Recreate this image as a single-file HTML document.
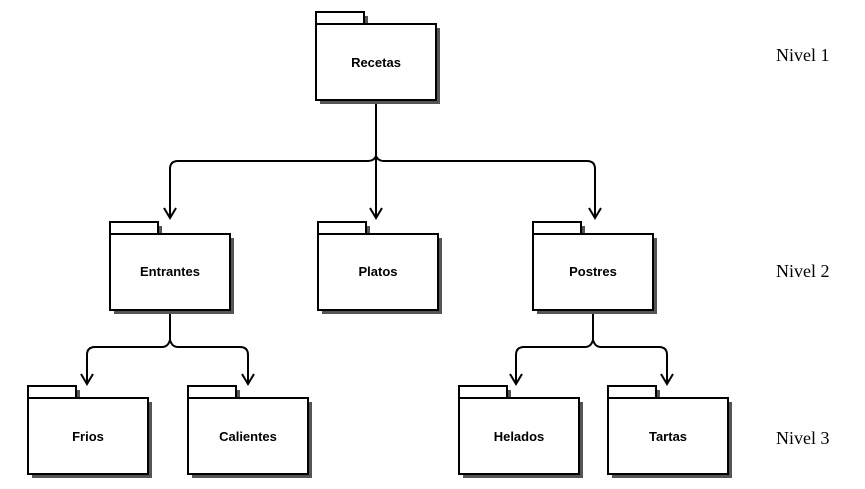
<!DOCTYPE html>
<html><head><meta charset="utf-8"><style>
html,body{margin:0;padding:0;background:#fff;width:865px;height:489px;overflow:hidden}
</style></head><body>
<svg width="865" height="489" xmlns="http://www.w3.org/2000/svg">
<defs>
<g id="pkg">
<rect x="4" y="4" width="48" height="12" fill="#555"/>
<rect x="4" y="16" width="120" height="76" fill="#555"/>
<rect x="0" y="0" width="48" height="12" fill="#fff" stroke="#000" stroke-width="2"/>
<rect x="0" y="12" width="120" height="76" fill="#fff" stroke="#000" stroke-width="2"/>
</g>
</defs>
<g fill="none" stroke="#000" stroke-width="2">
<path d="M376 100 V216"/>
<path d="M170 216 V169 Q170 161 178 161 H368 Q374 161 376 156 Q378 161 384 161 H587 Q595 161 595 169 V216"/>
<path d="M170 310 V340"/>
<path d="M87 382 V355 Q87 347 95 347 H162 Q168 347 170 340 Q172 347 178 347 H240 Q248 347 248 355 V382"/>
<path d="M593 310 V340"/>
<path d="M516 382 V355 Q516 347 524 347 H585 Q591 347 593 340 Q595 347 601 347 H659 Q667 347 667 355 V382"/>
<path d="M164 208 L170 218 L176 208 M370 208 L376 218 L382 208 M589 208 L595 218 L601 208"/>
<path d="M81 374 L87 384 L93 374 M242 374 L248 384 L254 374 M510 374 L516 384 L522 374 M661 374 L667 384 L673 374"/>
</g>
<use href="#pkg" x="316" y="12"/>
<use href="#pkg" x="110" y="222"/>
<use href="#pkg" x="318" y="222"/>
<use href="#pkg" x="533" y="222"/>
<use href="#pkg" x="28" y="386"/>
<use href="#pkg" x="188" y="386"/>
<use href="#pkg" x="459" y="386"/>
<use href="#pkg" x="608" y="386"/>
<g font-family="Liberation Sans, sans-serif" font-weight="bold" font-size="13" text-anchor="middle">
<text x="376" y="67">Recetas</text>
<text x="170" y="276">Entrantes</text>
<text x="378" y="276">Platos</text>
<text x="593" y="276">Postres</text>
<text x="88" y="441">Frios</text>
<text x="248" y="441">Calientes</text>
<text x="519" y="441">Helados</text>
<text x="668" y="441">Tartas</text>
</g>
<g font-family="Liberation Serif, serif" font-size="18">
<text x="776" y="61">Nivel 1</text>
<text x="776" y="277">Nivel 2</text>
<text x="776" y="444">Nivel 3</text>
</g>
</svg>
</body></html>
